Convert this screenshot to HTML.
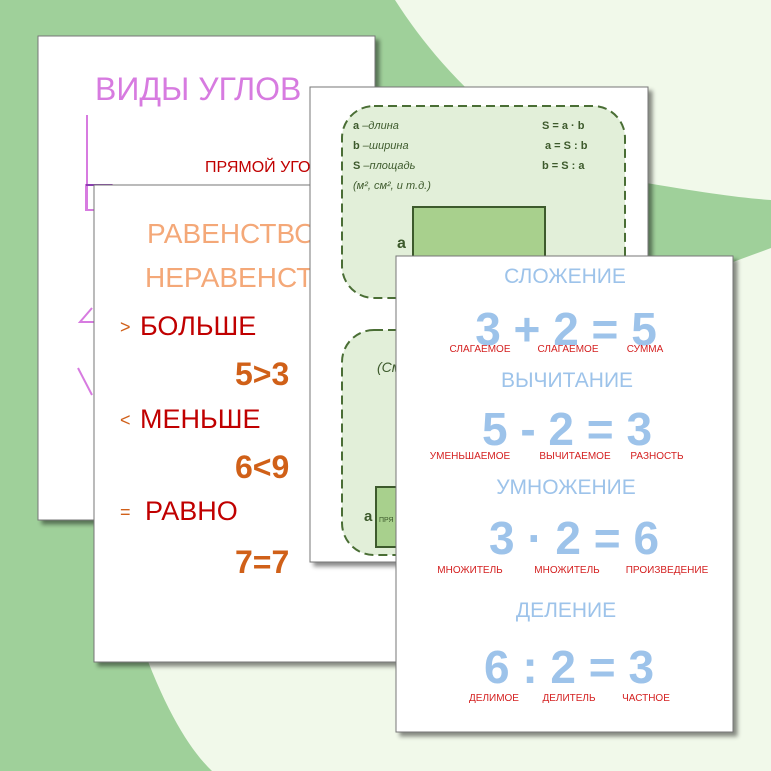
<!DOCTYPE html>
<html><head><meta charset="utf-8"><style>
html,body{margin:0;padding:0;width:771px;height:771px;overflow:hidden;background:#9fd09a}
svg{display:block}
text{font-family:"Liberation Sans","DejaVu Sans",sans-serif}
</style></head><body>
<svg width="771" height="771" viewBox="0 0 771 771" xmlns="http://www.w3.org/2000/svg">
<defs>
<filter id="sh" x="-10%" y="-10%" width="130%" height="130%"><feDropShadow dx="4" dy="4" stdDeviation="2" flood-color="#000" flood-opacity="0.45"/></filter>
</defs>
<!-- background -->
<rect width="771" height="771" fill="#9fd09a"/>
<path d="M395,0 C440,70 520,160 640,182 C700,192 740,198 771,200 L771,0 Z" fill="#f1f9ea"/>
<path d="M771,248 L733,262 C500,340 220,480 140,640 C165,710 190,750 212,771 L771,771 Z" fill="#f1f9ea"/>
<!-- card 1 -->
<rect x="38" y="36" width="337" height="484" fill="#fff" stroke="#777" stroke-width="1" filter="url(#sh)"/>
<text x="95" y="100" font-size="32" fill="#d77be0">ВИДЫ УГЛОВ</text>
<line x1="87" y1="115" x2="87" y2="210" stroke="#d77be0" stroke-width="2"/>
<rect x="86" y="185" width="26" height="25" fill="none" stroke="#d77be0" stroke-width="2"/>
<line x1="86" y1="185" x2="112" y2="185" stroke="#8a3fb0" stroke-width="2"/>
<text x="205" y="172" font-size="16" fill="#c00000">ПРЯМОЙ УГОЛ</text>
<path d="M92,308 L80,322 L94,322" fill="none" stroke="#d77be0" stroke-width="2"/>
<line x1="78" y1="368" x2="92" y2="395" stroke="#d77be0" stroke-width="2"/>
<!-- card 2 -->
<rect x="94" y="185" width="330" height="477" fill="#fff" stroke="#777" stroke-width="1" filter="url(#sh)"/>
<text x="147" y="243" font-size="28" fill="#f4a878">РАВЕНСТВО</text>
<text x="145" y="287" font-size="28" fill="#f4a878">НЕРАВЕНСТВО</text>
<text x="120" y="333" font-size="18" fill="#d0601a">&gt;</text>
<text x="140" y="335" font-size="27" fill="#c00000">БОЛЬШЕ</text>
<text x="235" y="385" font-size="32" font-weight="bold" fill="#d06018">5&gt;3</text>
<text x="120" y="426" font-size="18" fill="#d0601a">&lt;</text>
<text x="140" y="428" font-size="27" fill="#c00000">МЕНЬШЕ</text>
<text x="235" y="478" font-size="32" font-weight="bold" fill="#d06018">6&lt;9</text>
<text x="120" y="518" font-size="18" fill="#d0601a">=</text>
<text x="145" y="520" font-size="27" fill="#c00000">РАВНО</text>
<text x="235" y="573" font-size="32" font-weight="bold" fill="#d06018">7=7</text>
<!-- card 3 -->
<rect x="310" y="87" width="338" height="475" fill="#fff" stroke="#777" stroke-width="1" filter="url(#sh)"/>
<rect x="342" y="106" width="283" height="192" rx="32" fill="#e2efd9" stroke="#4a6e35" stroke-width="2" stroke-dasharray="9,5"/>
<g font-size="11" fill="#3d5a2c">
<text x="353" y="129"><tspan font-weight="bold">a</tspan> <tspan font-style="italic">–длина</tspan></text>
<text x="353" y="149"><tspan font-weight="bold">b</tspan> <tspan font-style="italic">–ширина</tspan></text>
<text x="353" y="169"><tspan font-weight="bold">S</tspan> <tspan font-style="italic">–площадь</tspan></text>
<text x="353" y="189" font-style="italic">(м², см², и т.д.)</text>
<text x="542" y="129" font-weight="bold">S = a · b</text>
<text x="545" y="149" font-weight="bold">a = S : b</text>
<text x="542" y="169" font-weight="bold">b = S : a</text>
</g>
<rect x="413" y="207" width="132" height="70" fill="#a8d08d" stroke="#3d5a2c" stroke-width="2"/>
<text x="397" y="248" font-size="16" font-weight="bold" fill="#3d5a2c">a</text>
<rect x="342" y="330" width="283" height="225" rx="32" fill="#e2efd9" stroke="#4a6e35" stroke-width="2" stroke-dasharray="9,5"/>
<text x="377" y="372" font-size="14" font-style="italic" fill="#3d5a2c">(См</text>
<rect x="376" y="487" width="40" height="60" fill="#a8d08d" stroke="#3d5a2c" stroke-width="2"/>
<text x="364" y="521" font-size="15" font-weight="bold" fill="#3d5a2c">a</text>
<text x="379" y="522" font-size="7" fill="#3d5a2c">ПРЯ</text>
<!-- card 4 -->
<rect x="396" y="256" width="337" height="476" fill="#fff" stroke="#777" stroke-width="1" filter="url(#sh)"/>
<g fill="#9dc3ea" text-anchor="middle">
<text x="565" y="283" font-size="21">СЛОЖЕНИЕ</text>
<text x="566" y="345" font-size="46" font-weight="bold">3 + 2 = 5</text>
<text x="567" y="387" font-size="21">ВЫЧИТАНИЕ</text>
<text x="567" y="445" font-size="46" font-weight="bold">5 - 2 = 3</text>
<text x="566" y="494" font-size="21">УМНОЖЕНИЕ</text>
<text x="574" y="554" font-size="46" font-weight="bold">3 · 2 = 6</text>
<text x="566" y="617" font-size="21">ДЕЛЕНИЕ</text>
<text x="569" y="683" font-size="46" font-weight="bold">6 : 2 = 3</text>
</g>
<g fill="#d42020" font-size="10" text-anchor="middle">
<text x="480" y="352">СЛАГАЕМОЕ</text>
<text x="568" y="352">СЛАГАЕМОЕ</text>
<text x="645" y="352">СУММА</text>
<text x="470" y="459">УМЕНЬШАЕМОЕ</text>
<text x="575" y="459">ВЫЧИТАЕМОЕ</text>
<text x="657" y="459">РАЗНОСТЬ</text>
<text x="470" y="573">МНОЖИТЕЛЬ</text>
<text x="567" y="573">МНОЖИТЕЛЬ</text>
<text x="667" y="573">ПРОИЗВЕДЕНИЕ</text>
<text x="494" y="701">ДЕЛИМОЕ</text>
<text x="569" y="701">ДЕЛИТЕЛЬ</text>
<text x="646" y="701">ЧАСТНОЕ</text>
</g>
</svg>
</body></html>
